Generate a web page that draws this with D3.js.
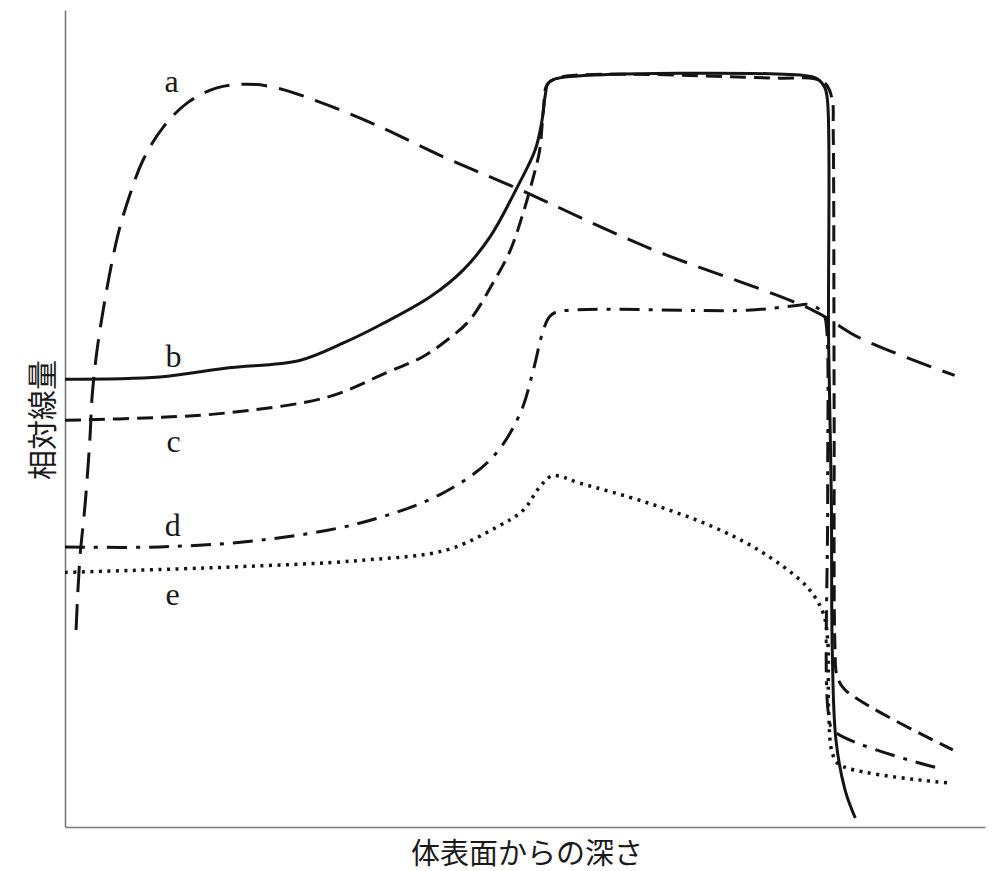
<!DOCTYPE html>
<html>
<head>
<meta charset="utf-8">
<script src="https://cdn.jsdelivr.net/npm/d3@7"></script>
<style>
  body { margin: 0; background: #fff; }
  svg { display: block; }
</style>
</head>
<body>
<svg id="grafico"></svg>
<script>
"use strict"

// depth (0-100 across the axis) / relative dose (plateau = 100)
const curveA = [
  [1.2, 26.3], [1.6, 35.6], [2.2, 43.3], [2.7, 51.7], [3.0, 58.3], [3.8, 66.4],
  [5.7, 78.8], [7.1, 84.6], [8.5, 89.1], [10.7, 93.5], [13.3, 96.7], [16.5, 98.7],
  [19.8, 99.2], [23.0, 98.7], [27.7, 96.8], [33.9, 93.7], [41.1, 89.5], [49.1, 85.3],
  [63.3, 77.4], [81.3, 69.0], [86.4, 65.3], [96.7, 60.3]
];
const curveB = [
  [0, 59.8], [10.3, 60.1], [17.6, 61.3], [25.5, 62.3], [30.2, 64.6], [34.2, 67.0],
  [39.7, 70.8], [43.3, 74.4], [46.2, 78.8], [49.1, 85.3], [51.1, 90.4], [51.8, 94.0],
  [52.2, 97.7], [52.5, 99.3], [53.3, 99.9], [80.7, 100.3], [81.8, 99.9], [82.6, 98.7],
  [82.9, 96.7], [83.0, 64.6], [83.3, 43.7], [83.4, 23.6], [83.8, 11.6], [84.8, 4.9],
  [85.9, 1.2]
];
const curveC = [
  [0, 54.3], [10.3, 54.7], [17.6, 55.3], [28.5, 57.4], [35.0, 60.7], [38.9, 62.8],
  [41.5, 65.0], [44.0, 67.7], [46.5, 72.6], [48.4, 77.0], [49.8, 82.0], [51.1, 87.7],
  [51.6, 90.4], [52.0, 95.7], [52.4, 99.1], [53.8, 100.1], [77.7, 100], [81.5, 99.9],
  [82.7, 99.2], [83.4, 97.1], [83.5, 93.1], [83.6, 57.0], [83.7, 23.6], [83.9, 20.3],
  [84.8, 18.3], [96.5, 10.3]
];
const curveD = [
  [0, 37.4], [10.3, 37.4], [21.2, 38.3], [32.1, 40.6], [41.1, 44.6], [46.5, 49.4],
  [49.5, 55.3], [50.9, 61.0], [52.0, 66.4], [52.7, 68.2], [53.5, 68.8], [74.1, 69.0],
  [79.3, 69.6], [80.7, 69.8], [81.8, 69.3], [82.5, 68.4], [82.8, 66.4], [82.9, 43.7],
  [83.0, 15.0], [83.6, 12.8], [94.8, 7.9]
];
const curveE = [
  [0, 34.0], [17.6, 34.7], [32.1, 35.6], [41.5, 37.0], [47.0, 40.1], [49.8, 42.3],
  [51.6, 45.4], [53.0, 46.9], [56.0, 45.9], [63.3, 43.3], [70.4, 40.1], [75.9, 36.6],
  [80.7, 32.0], [82.4, 28.6], [82.9, 25.0], [83.0, 15.6], [83.4, 9.9], [84.2, 8.3],
  [95.9, 5.9]
];

const nomes = ['a', 'b', 'c', 'd', 'e'];
const series = [curveA, curveB, curveC, curveD, curveE];
// where each letter sits (depth, dose)
const rotulos = [[11.6, 98.1], [11.8, 61.4], [11.8, 50.1], [11.7, 38.8], [11.7, 29.6]];

const tituloX = '体表面からの深さ';
const tituloY = '相対線量';

function iniciar(){
  const largura = 1000;
  const altura = 871;

  const svg = d3.select('#grafico')
    .attr('width', largura)
    .attr('height', altura);

  const x = d3.scaleLinear().domain([0, 100]).range([65, 985]);
  const y = d3.scaleLinear().domain([0, 109.1]).range([827, 10]);

  // estilos por curva
  const tracos = [
    { dash: '26 12', w: 3 },
    { dash: null, w: 3 },
    { dash: '16 8', w: 3 },
    { dash: '20 9 4 9', w: 3 },
    { dash: '3 5.5', w: 3.5 }
  ];

  const linha = d3.line()
    .x(d => x(d[0]))
    .y(d => y(d[1]))
    .curve(d3.curveCatmullRom.alpha(0.5));

  svg.append('g')
    .attr('transform', 'translate(65,0)')
    .call(d3.axisLeft(y).ticks(0).tickSizeOuter(0))
    .call(g => g.select('.domain').attr('stroke', '#7a7a7a').attr('stroke-width', 1.6));

  svg.append('g')
    .attr('transform', 'translate(0,827)')
    .call(d3.axisBottom(x).ticks(0).tickSizeOuter(0))
    .call(g => g.select('.domain').attr('stroke', '#7a7a7a').attr('stroke-width', 1.6));

  svg.selectAll('.curva')
    .data(series)
    .enter()
      .append('path')
      .classed('curva', true)
      .attr('d', d => linha(d))
      .attr('fill', 'none')
      .attr('stroke', '#141414')
      .attr('stroke-width', (d, i) => tracos[i].w)
      .attr('stroke-dasharray', (d, i) => tracos[i].dash);

  svg.selectAll('.rotulo')
    .data(nomes)
    .enter()
      .append('text')
      .classed('rotulo', true)
      .text(d => d)
      .attr('x', (d, i) => x(rotulos[i][0]))
      .attr('y', (d, i) => y(rotulos[i][1]))
      .attr('text-anchor', 'middle')
      .attr('font-family', '"Liberation Serif", "DejaVu Serif", serif')
      .attr('font-size', 32)
      .attr('fill', '#1a1a1a');

  svg.append('text')
    .text(tituloX)
    .attr('x', 527)
    .attr('y', 851)
    .attr('text-anchor', 'middle')
    .attr('dominant-baseline', 'central')
    .attr('font-family', '"Noto Sans CJK JP", sans-serif')
    .attr('font-size', 29)
    .attr('fill', '#1a1a1a');

  svg.append('text')
    .text(tituloY)
    .attr('transform', 'translate(40,420) rotate(-90)')
    .attr('text-anchor', 'middle')
    .attr('dominant-baseline', 'central')
    .attr('font-family', '"Noto Sans CJK JP", sans-serif')
    .attr('font-size', 30)
    .attr('fill', '#1a1a1a');
}

window.addEventListener('load', iniciar, false);
</script>
</body>
</html>
